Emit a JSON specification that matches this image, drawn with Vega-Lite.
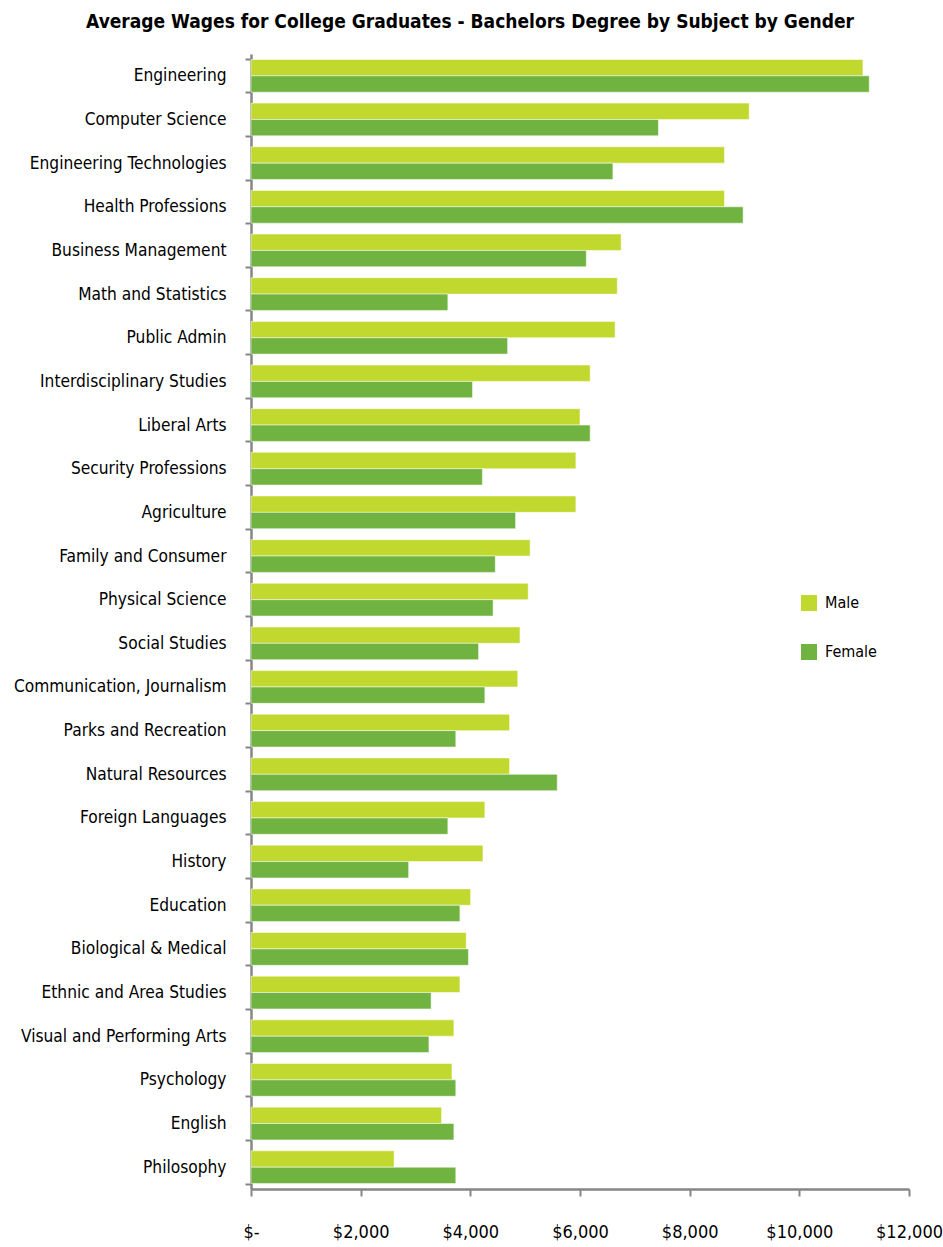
{
  "$schema": "https://vega.github.io/schema/vega-lite/v6.json",
  "autosize": {"type": "none"},
  "padding": {"left": 251, "top": 54, "right": 34, "bottom": 58},
  "width": 658,
  "height": 1135,
  "background": "white",
  "title": {
    "text": "Average Wages for College Graduates - Bachelors Degree by Subject by Gender",
    "font": "DejaVu Sans Condensed, sans-serif",
    "fontSize": 19,
    "fontWeight": "bold",
    "color": "black",
    "anchor": "middle",
    "frame": "group",
    "dx": -110,
    "offset": 13
  },
  "data": {
    "values": [
      {"subject": "Engineering", "Male": 11160, "Female": 11275},
      {"subject": "Computer Science", "Male": 9085, "Female": 7430},
      {"subject": "Engineering Technologies", "Male": 8635, "Female": 6600},
      {"subject": "Health Professions", "Male": 8635, "Female": 8975},
      {"subject": "Business Management", "Male": 6750, "Female": 6115},
      {"subject": "Math and Statistics", "Male": 6680, "Female": 3590},
      {"subject": "Public Admin", "Male": 6640, "Female": 4680},
      {"subject": "Interdisciplinary Studies", "Male": 6185, "Female": 4040},
      {"subject": "Liberal Arts", "Male": 6000, "Female": 6185},
      {"subject": "Security Professions", "Male": 5925, "Female": 4220},
      {"subject": "Agriculture", "Male": 5925, "Female": 4825},
      {"subject": "Family and Consumer", "Male": 5090, "Female": 4455},
      {"subject": "Physical Science", "Male": 5055, "Female": 4415},
      {"subject": "Social Studies", "Male": 4905, "Female": 4150},
      {"subject": "Communication, Journalism", "Male": 4865, "Female": 4265},
      {"subject": "Parks and Recreation", "Male": 4715, "Female": 3735},
      {"subject": "Natural Resources", "Male": 4715, "Female": 5585},
      {"subject": "Foreign Languages", "Male": 4265, "Female": 3590},
      {"subject": "History", "Male": 4230, "Female": 2875},
      {"subject": "Education", "Male": 4005, "Female": 3810},
      {"subject": "Biological & Medical", "Male": 3925, "Female": 3965},
      {"subject": "Ethnic and Area Studies", "Male": 3810, "Female": 3285},
      {"subject": "Visual and Performing Arts", "Male": 3700, "Female": 3245},
      {"subject": "Psychology", "Male": 3665, "Female": 3735},
      {"subject": "English", "Male": 3475, "Female": 3700},
      {"subject": "Philosophy", "Male": 2610, "Female": 3735}
    ]
  },
  "transform": [
    {"fold": ["Male", "Female"], "as": ["gender", "wage"]}
  ],
  "mark": {"type": "bar", "stroke": "white", "strokeOpacity": 0.5, "strokeWidth": 1},
  "encoding": {
    "y": {
      "field": "subject",
      "type": "nominal",
      "sort": null,
      "scale": {"paddingInner": 0.25, "paddingOuter": 0.125},
      "axis": {
        "title": null,
        "tickBand": "extent",
        "tickSize": 6,
        "tickWidth": 2,
        "tickColor": "#868686",
        "domainColor": "#868686",
        "domainWidth": 2.5,
        "labelFont": "DejaVu Sans Condensed, sans-serif",
        "labelFontSize": 17.2,
        "labelColor": "black",
        "labelPadding": 19,
        "labelLimit": 260
      }
    },
    "yOffset": {
      "field": "gender",
      "type": "nominal",
      "sort": ["Male", "Female"],
      "scale": {"paddingInner": 0, "paddingOuter": 0}
    },
    "x": {
      "field": "wage",
      "type": "quantitative",
      "scale": {"domain": [0, 12000], "nice": false},
      "axis": {
        "title": null,
        "grid": false,
        "values": [0, 2000, 4000, 6000, 8000, 10000, 12000],
        "labelExpr": "datum.value == 0 ? '$-' : '$' + format(datum.value, ',')",
        "tickSize": 7,
        "tickWidth": 2,
        "tickColor": "#868686",
        "domainColor": "#868686",
        "domainWidth": 2.5,
        "labelFont": "DejaVu Sans Condensed, sans-serif",
        "labelFontSize": 18,
        "labelColor": "black",
        "labelPadding": 27,
        "labelFlush": false
      }
    },
    "color": {
      "field": "gender",
      "type": "nominal",
      "sort": ["Male", "Female"],
      "scale": {"domain": ["Male", "Female"], "range": ["#C1D82E", "#70B340"]},
      "legend": {
        "title": null,
        "orient": "none",
        "legendX": 550,
        "legendY": 541,
        "symbolType": "square",
        "symbolSize": 256,
        "symbolStrokeWidth": 0,
        "labelFont": "DejaVu Sans Condensed, sans-serif",
        "labelFontSize": 16,
        "labelColor": "black",
        "labelOffset": 8,
        "rowPadding": 33
      }
    }
  },
  "config": {"view": {"stroke": null}}
}
